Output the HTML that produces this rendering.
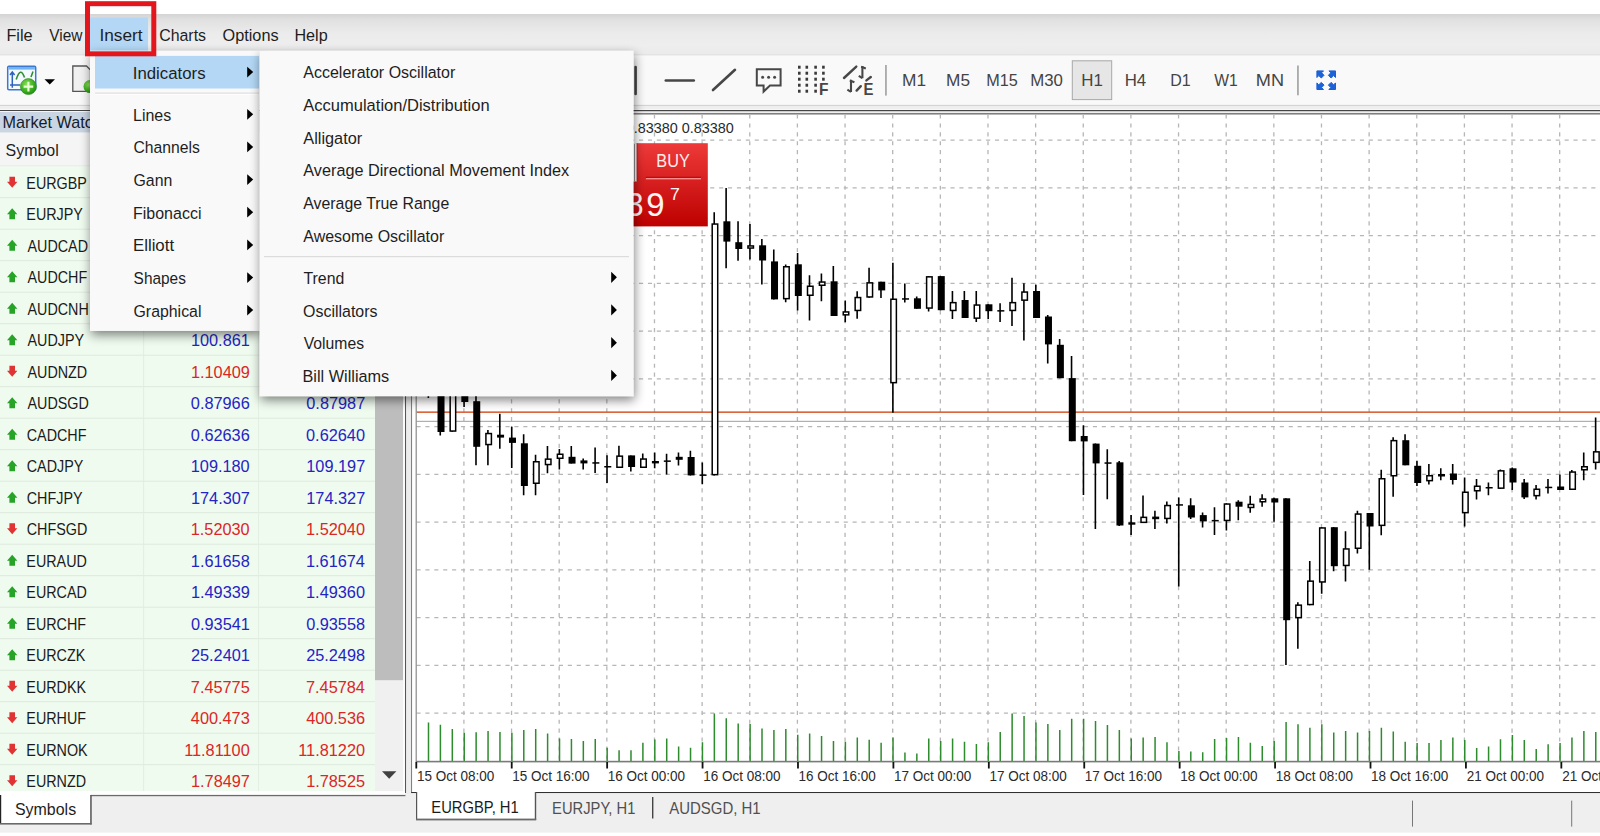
<!DOCTYPE html><html><head><meta charset="utf-8"><title>MetaTrader</title><style>
html,body{margin:0;padding:0;width:1600px;height:836px;overflow:hidden;background:#efefef}
svg{display:block} text{font-family:'Liberation Sans',sans-serif}
</style></head><body>
<svg width="1600" height="836" viewBox="0 0 1600 836">
<defs>
<linearGradient id="mbg" x1="0" y1="0" x2="0" y2="1"><stop offset="0" stop-color="#d4d4d4"/><stop offset="0.15" stop-color="#e1e1e1"/><stop offset="0.45" stop-color="#ebebeb"/><stop offset="0.75" stop-color="#eeeeee"/><stop offset="1" stop-color="#eaeaea"/></linearGradient>
<linearGradient id="buy" x1="0" y1="0" x2="0" y2="1"><stop offset="0" stop-color="#ee3a3a"/><stop offset="1" stop-color="#bd0000"/></linearGradient>
<radialGradient id="gplus" cx="0.4" cy="0.35" r="0.7"><stop offset="0" stop-color="#8be05a"/><stop offset="0.6" stop-color="#3fb022"/><stop offset="1" stop-color="#1d8a10"/></radialGradient>
<clipPath id="tbl"><rect x="0" y="166" width="375" height="625.1"/></clipPath>
<filter id="sh" x="-20%" y="-20%" width="140%" height="140%"><feGaussianBlur in="SourceAlpha" stdDeviation="5.5"/><feOffset dx="1" dy="3.5"/><feComponentTransfer><feFuncA type="linear" slope="0.5"/></feComponentTransfer><feMerge><feMergeNode/><feMergeNode in="SourceGraphic"/></feMerge></filter>
</defs>
<rect x="0" y="0" width="1600" height="14" fill="#ffffff"/>
<rect x="0" y="14" width="1600" height="41.5" fill="url(#mbg)"/>
<rect x="0" y="54.5" width="1600" height="1" fill="#dcdcdc"/>
<rect x="0" y="55.5" width="1600" height="49" fill="#f9f9f9"/>
<rect x="0" y="105" width="1600" height="1" fill="#d4d4d4"/>
<rect x="0" y="106" width="1600" height="3.5" fill="#efefef"/>
<rect x="0" y="109.5" width="1600" height="1" fill="#ffffff"/>
<rect x="0" y="110" width="1600" height="1.2" fill="#454545"/>
<rect x="90" y="17.5" width="58" height="33.2" fill="#b3d7f5"/>
<text x="6.45" y="40.60" font-size="17.2" fill="#1e1e1e" textLength="26.21" lengthAdjust="spacingAndGlyphs">File</text>
<text x="49.32" y="40.60" font-size="17.2" fill="#1e1e1e" textLength="33.17" lengthAdjust="spacingAndGlyphs">View</text>
<text x="99.45" y="40.60" font-size="17.2" fill="#1e1e1e" textLength="43.16" lengthAdjust="spacingAndGlyphs">Insert</text>
<text x="159.20" y="40.60" font-size="17.2" fill="#1e1e1e" textLength="46.86" lengthAdjust="spacingAndGlyphs">Charts</text>
<text x="222.52" y="40.60" font-size="17.2" fill="#1e1e1e" textLength="56.07" lengthAdjust="spacingAndGlyphs">Options</text>
<text x="294.46" y="40.60" font-size="17.2" fill="#1e1e1e" textLength="33.22" lengthAdjust="spacingAndGlyphs">Help</text>
<rect x="0" y="111.2" width="405" height="1" fill="#ffffff"/>
<rect x="0" y="112" width="405" height="20.6" fill="#c9d5e3"/>
<text x="2.50" y="127.90" font-size="17" fill="#141c2c" textLength="99.29" lengthAdjust="spacingAndGlyphs">Market Watch</text>
<rect x="0" y="132.6" width="375" height="33.6" fill="#f5f5f6"/>
<rect x="0" y="165.6" width="375" height="0.8" fill="#e2e2e2"/>
<text x="5.58" y="155.90" font-size="17" fill="#1e1e1e" textLength="53.13" lengthAdjust="spacingAndGlyphs">Symbol</text>
<rect x="0" y="166.2" width="375" height="624.9" fill="#effbef"/>
<g clip-path="url(#tbl)">
<rect x="0" y="197.25" width="375" height="0.9" fill="#dde8dd"/>
<path d="M9.4 176.70 L15 176.70 L15 181.70 L17.4 181.70 L12.2 187.70 L7 181.70 L9.4 181.70 Z" fill="#e03434"/>
<text x="26.35" y="188.90" font-size="16.5" fill="#1a1a1a" textLength="60.51" lengthAdjust="spacingAndGlyphs">EURGBP</text>
<rect x="0" y="228.75" width="375" height="0.9" fill="#dde8dd"/>
<path d="M7 214.20 L12.2 208.20 L17.4 214.20 L15 214.20 L15 219.20 L9.4 219.20 L9.4 214.20 Z" fill="#27a327"/>
<text x="26.35" y="220.40" font-size="16.5" fill="#1a1a1a" textLength="56.53" lengthAdjust="spacingAndGlyphs">EURJPY</text>
<rect x="0" y="260.25" width="375" height="0.9" fill="#dde8dd"/>
<path d="M7 245.70 L12.2 239.70 L17.4 245.70 L15 245.70 L15 250.70 L9.4 250.70 L9.4 245.70 Z" fill="#27a327"/>
<text x="27.50" y="251.90" font-size="16.5" fill="#1a1a1a" textLength="60.50" lengthAdjust="spacingAndGlyphs">AUDCAD</text>
<rect x="0" y="291.75" width="375" height="0.9" fill="#dde8dd"/>
<path d="M7 277.20 L12.2 271.20 L17.4 277.20 L15 277.20 L15 282.20 L9.4 282.20 L9.4 277.20 Z" fill="#27a327"/>
<text x="27.50" y="283.40" font-size="16.5" fill="#1a1a1a" textLength="59.70" lengthAdjust="spacingAndGlyphs">AUDCHF</text>
<rect x="0" y="323.25" width="375" height="0.9" fill="#dde8dd"/>
<path d="M7 308.70 L12.2 302.70 L17.4 308.70 L15 308.70 L15 313.70 L9.4 313.70 L9.4 308.70 Z" fill="#27a327"/>
<text x="27.50" y="314.90" font-size="16.5" fill="#1a1a1a" textLength="61.29" lengthAdjust="spacingAndGlyphs">AUDCNH</text>
<rect x="0" y="354.75" width="375" height="0.9" fill="#dde8dd"/>
<path d="M7 340.20 L12.2 334.20 L17.4 340.20 L15 340.20 L15 345.20 L9.4 345.20 L9.4 340.20 Z" fill="#27a327"/>
<text x="27.50" y="346.40" font-size="16.5" fill="#1a1a1a" textLength="56.53" lengthAdjust="spacingAndGlyphs">AUDJPY</text>
<text x="190.93" y="346.40" font-size="16" fill="#2424c4" textLength="58.90" lengthAdjust="spacingAndGlyphs">100.861</text>
<text x="306.07" y="346.40" font-size="16" fill="#2424c4" textLength="58.90" lengthAdjust="spacingAndGlyphs">100.880</text>
<rect x="0" y="386.25" width="375" height="0.9" fill="#dde8dd"/>
<path d="M9.4 365.70 L15 365.70 L15 370.70 L17.4 370.70 L12.2 376.70 L7 370.70 L9.4 370.70 Z" fill="#e03434"/>
<text x="27.50" y="377.90" font-size="16.5" fill="#1a1a1a" textLength="59.70" lengthAdjust="spacingAndGlyphs">AUDNZD</text>
<text x="190.93" y="377.90" font-size="16" fill="#dc2626" textLength="58.90" lengthAdjust="spacingAndGlyphs">1.10409</text>
<text x="306.23" y="377.90" font-size="16" fill="#dc2626" textLength="58.90" lengthAdjust="spacingAndGlyphs">1.10431</text>
<rect x="0" y="417.75" width="375" height="0.9" fill="#dde8dd"/>
<path d="M7 403.20 L12.2 397.20 L17.4 403.20 L15 403.20 L15 408.20 L9.4 408.20 L9.4 403.20 Z" fill="#27a327"/>
<text x="27.50" y="409.40" font-size="16.5" fill="#1a1a1a" textLength="61.30" lengthAdjust="spacingAndGlyphs">AUDSGD</text>
<text x="190.85" y="409.40" font-size="16" fill="#2424c4" textLength="58.90" lengthAdjust="spacingAndGlyphs">0.87966</text>
<text x="306.31" y="409.40" font-size="16" fill="#2424c4" textLength="58.90" lengthAdjust="spacingAndGlyphs">0.87987</text>
<rect x="0" y="449.25" width="375" height="0.9" fill="#dde8dd"/>
<path d="M7 434.70 L12.2 428.70 L17.4 434.70 L15 434.70 L15 439.70 L9.4 439.70 L9.4 434.70 Z" fill="#27a327"/>
<text x="26.78" y="440.90" font-size="16.5" fill="#1a1a1a" textLength="59.70" lengthAdjust="spacingAndGlyphs">CADCHF</text>
<text x="190.85" y="440.90" font-size="16" fill="#2424c4" textLength="58.90" lengthAdjust="spacingAndGlyphs">0.62636</text>
<text x="306.07" y="440.90" font-size="16" fill="#2424c4" textLength="58.90" lengthAdjust="spacingAndGlyphs">0.62640</text>
<rect x="0" y="480.75" width="375" height="0.9" fill="#dde8dd"/>
<path d="M7 466.20 L12.2 460.20 L17.4 466.20 L15 466.20 L15 471.20 L9.4 471.20 L9.4 466.20 Z" fill="#27a327"/>
<text x="26.78" y="472.40" font-size="16.5" fill="#1a1a1a" textLength="56.53" lengthAdjust="spacingAndGlyphs">CADJPY</text>
<text x="190.77" y="472.40" font-size="16" fill="#2424c4" textLength="58.90" lengthAdjust="spacingAndGlyphs">109.180</text>
<text x="306.31" y="472.40" font-size="16" fill="#2424c4" textLength="58.90" lengthAdjust="spacingAndGlyphs">109.197</text>
<rect x="0" y="512.25" width="375" height="0.9" fill="#dde8dd"/>
<path d="M7 497.70 L12.2 491.70 L17.4 497.70 L15 497.70 L15 502.70 L9.4 502.70 L9.4 497.70 Z" fill="#27a327"/>
<text x="26.78" y="503.90" font-size="16.5" fill="#1a1a1a" textLength="55.72" lengthAdjust="spacingAndGlyphs">CHFJPY</text>
<text x="191.01" y="503.90" font-size="16" fill="#2424c4" textLength="58.90" lengthAdjust="spacingAndGlyphs">174.307</text>
<text x="306.31" y="503.90" font-size="16" fill="#2424c4" textLength="58.90" lengthAdjust="spacingAndGlyphs">174.327</text>
<rect x="0" y="543.75" width="375" height="0.9" fill="#dde8dd"/>
<path d="M9.4 523.20 L15 523.20 L15 528.20 L17.4 528.20 L12.2 534.20 L7 528.20 L9.4 528.20 Z" fill="#e03434"/>
<text x="26.78" y="535.40" font-size="16.5" fill="#1a1a1a" textLength="60.50" lengthAdjust="spacingAndGlyphs">CHFSGD</text>
<text x="190.77" y="535.40" font-size="16" fill="#dc2626" textLength="58.90" lengthAdjust="spacingAndGlyphs">1.52030</text>
<text x="306.07" y="535.40" font-size="16" fill="#dc2626" textLength="58.90" lengthAdjust="spacingAndGlyphs">1.52040</text>
<rect x="0" y="575.25" width="375" height="0.9" fill="#dde8dd"/>
<path d="M7 560.70 L12.2 554.70 L17.4 560.70 L15 560.70 L15 565.70 L9.4 565.70 L9.4 560.70 Z" fill="#27a327"/>
<text x="26.35" y="566.90" font-size="16.5" fill="#1a1a1a" textLength="60.50" lengthAdjust="spacingAndGlyphs">EURAUD</text>
<text x="190.85" y="566.90" font-size="16" fill="#2424c4" textLength="58.90" lengthAdjust="spacingAndGlyphs">1.61658</text>
<text x="305.99" y="566.90" font-size="16" fill="#2424c4" textLength="58.90" lengthAdjust="spacingAndGlyphs">1.61674</text>
<rect x="0" y="606.75" width="375" height="0.9" fill="#dde8dd"/>
<path d="M7 592.20 L12.2 586.20 L17.4 592.20 L15 592.20 L15 597.20 L9.4 597.20 L9.4 592.20 Z" fill="#27a327"/>
<text x="26.35" y="598.40" font-size="16.5" fill="#1a1a1a" textLength="60.50" lengthAdjust="spacingAndGlyphs">EURCAD</text>
<text x="190.93" y="598.40" font-size="16" fill="#2424c4" textLength="58.90" lengthAdjust="spacingAndGlyphs">1.49339</text>
<text x="306.07" y="598.40" font-size="16" fill="#2424c4" textLength="58.90" lengthAdjust="spacingAndGlyphs">1.49360</text>
<rect x="0" y="638.25" width="375" height="0.9" fill="#dde8dd"/>
<path d="M7 623.70 L12.2 617.70 L17.4 623.70 L15 623.70 L15 628.70 L9.4 628.70 L9.4 623.70 Z" fill="#27a327"/>
<text x="26.35" y="629.90" font-size="16.5" fill="#1a1a1a" textLength="59.70" lengthAdjust="spacingAndGlyphs">EURCHF</text>
<text x="190.93" y="629.90" font-size="16" fill="#2424c4" textLength="58.90" lengthAdjust="spacingAndGlyphs">0.93541</text>
<text x="306.15" y="629.90" font-size="16" fill="#2424c4" textLength="58.90" lengthAdjust="spacingAndGlyphs">0.93558</text>
<rect x="0" y="669.75" width="375" height="0.9" fill="#dde8dd"/>
<path d="M7 655.20 L12.2 649.20 L17.4 655.20 L15 655.20 L15 660.20 L9.4 660.20 L9.4 655.20 Z" fill="#27a327"/>
<text x="26.35" y="661.40" font-size="16.5" fill="#1a1a1a" textLength="58.91" lengthAdjust="spacingAndGlyphs">EURCZK</text>
<text x="190.93" y="661.40" font-size="16" fill="#2424c4" textLength="58.90" lengthAdjust="spacingAndGlyphs">25.2401</text>
<text x="306.15" y="661.40" font-size="16" fill="#2424c4" textLength="58.90" lengthAdjust="spacingAndGlyphs">25.2498</text>
<rect x="0" y="701.25" width="375" height="0.9" fill="#dde8dd"/>
<path d="M9.4 680.70 L15 680.70 L15 685.70 L17.4 685.70 L12.2 691.70 L7 685.70 L9.4 685.70 Z" fill="#e03434"/>
<text x="26.35" y="692.90" font-size="16.5" fill="#1a1a1a" textLength="59.71" lengthAdjust="spacingAndGlyphs">EURDKK</text>
<text x="190.85" y="692.90" font-size="16" fill="#dc2626" textLength="58.90" lengthAdjust="spacingAndGlyphs">7.45775</text>
<text x="305.99" y="692.90" font-size="16" fill="#dc2626" textLength="58.90" lengthAdjust="spacingAndGlyphs">7.45784</text>
<rect x="0" y="732.75" width="375" height="0.9" fill="#dde8dd"/>
<path d="M9.4 712.20 L15 712.20 L15 717.20 L17.4 717.20 L12.2 723.20 L7 717.20 L9.4 717.20 Z" fill="#e03434"/>
<text x="26.35" y="724.40" font-size="16.5" fill="#1a1a1a" textLength="59.70" lengthAdjust="spacingAndGlyphs">EURHUF</text>
<text x="190.85" y="724.40" font-size="16" fill="#dc2626" textLength="58.90" lengthAdjust="spacingAndGlyphs">400.473</text>
<text x="306.15" y="724.40" font-size="16" fill="#dc2626" textLength="58.90" lengthAdjust="spacingAndGlyphs">400.536</text>
<rect x="0" y="764.25" width="375" height="0.9" fill="#dde8dd"/>
<path d="M9.4 743.70 L15 743.70 L15 748.70 L17.4 748.70 L12.2 754.70 L7 748.70 L9.4 748.70 Z" fill="#e03434"/>
<text x="26.35" y="755.90" font-size="16.5" fill="#1a1a1a" textLength="61.30" lengthAdjust="spacingAndGlyphs">EURNOK</text>
<text x="184.17" y="755.90" font-size="16" fill="#dc2626" textLength="65.54" lengthAdjust="spacingAndGlyphs">11.81100</text>
<text x="298.25" y="755.90" font-size="16" fill="#dc2626" textLength="66.75" lengthAdjust="spacingAndGlyphs">11.81220</text>
<rect x="0" y="795.75" width="375" height="0.9" fill="#dde8dd"/>
<path d="M9.4 775.20 L15 775.20 L15 780.20 L17.4 780.20 L12.2 786.20 L7 780.20 L9.4 780.20 Z" fill="#e03434"/>
<text x="26.35" y="787.40" font-size="16.5" fill="#1a1a1a" textLength="59.70" lengthAdjust="spacingAndGlyphs">EURNZD</text>
<text x="191.01" y="787.40" font-size="16" fill="#dc2626" textLength="58.90" lengthAdjust="spacingAndGlyphs">1.78497</text>
<text x="306.15" y="787.40" font-size="16" fill="#dc2626" textLength="58.90" lengthAdjust="spacingAndGlyphs">1.78525</text>
</g>
<rect x="143.2" y="166.2" width="0.9" height="624.9" fill="#e2ece2"/>
<rect x="258.1" y="166.2" width="0.9" height="624.9" fill="#e2ece2"/>
<rect x="375" y="112" width="28" height="680" fill="#f0f0f0"/>
<rect x="375" y="140" width="28" height="540.2" fill="#bdbdbd"/>
<path d="M382 771.3 L396.4 771.3 L389.2 778.8 Z" fill="#404040"/>
<rect x="403" y="111" width="2.5" height="682" fill="#fbfbfb"/>
<rect x="405" y="111" width="1.2" height="682" fill="#555555"/>
<rect x="0" y="791.1" width="405" height="4.4" fill="#ffffff"/>
<rect x="90.4" y="794.9" width="315" height="1.3" fill="#6a6a6a"/>
<rect x="0" y="791" width="90.6" height="33" fill="#ffffff"/>
<rect x="0" y="795" width="1.2" height="29" fill="#222"/>
<rect x="90.2" y="795" width="1.5" height="29.5" fill="#555"/>
<rect x="0" y="823" width="91.6" height="1.6" fill="#6a6a6a"/>
<text x="14.98" y="815.30" font-size="17" fill="#1e1e1e" textLength="61.17" lengthAdjust="spacingAndGlyphs">Symbols</text>
<rect x="406.2" y="111.2" width="5.3" height="682" fill="#ececec"/>
<rect x="411.2" y="111.2" width="1" height="682" fill="#666666"/>
<rect x="412.2" y="113.2" width="1187.8" height="679" fill="#ffffff"/>
<rect x="411.2" y="113.3" width="1188.8" height="1.1" fill="#4a4a4a"/>
<rect x="411.2" y="792" width="1188.8" height="1.2" fill="#303030"/>
<path d="M463.90 114.5 V761.5 M511.55 114.5 V761.5 M559.19 114.5 V761.5 M606.83 114.5 V761.5 M654.48 114.5 V761.5 M702.12 114.5 V761.5 M749.76 114.5 V761.5 M797.40 114.5 V761.5 M845.05 114.5 V761.5 M892.69 114.5 V761.5 M940.33 114.5 V761.5 M987.98 114.5 V761.5 M1035.62 114.5 V761.5 M1083.26 114.5 V761.5 M1130.90 114.5 V761.5 M1178.55 114.5 V761.5 M1226.19 114.5 V761.5 M1273.83 114.5 V761.5 M1321.48 114.5 V761.5 M1369.12 114.5 V761.5 M1416.76 114.5 V761.5 M1464.41 114.5 V761.5 M1512.05 114.5 V761.5 M1559.69 114.5 V761.5 M416.5 140.20 H1600 M416.5 187.95 H1600 M416.5 235.70 H1600 M416.5 283.45 H1600 M416.5 331.20 H1600 M416.5 378.95 H1600 M416.5 426.70 H1600 M416.5 474.45 H1600 M416.5 522.20 H1600 M416.5 569.95 H1600 M416.5 617.70 H1600 M416.5 665.45 H1600 M416.5 713.20 H1600" stroke="#b6b6b6" stroke-width="1.3" stroke-dasharray="4.1 4.8" fill="none"/>
<rect x="416.5" y="411.4" width="1183.5" height="1.5" fill="#d9572a"/>
<rect x="416.5" y="420.8" width="1183.5" height="1.1" fill="#a8a8a8"/>
<path d="M428.50 722.5 V761.5 M440.41 724.8 V761.5 M452.32 729.1 V761.5 M464.23 732.8 V761.5 M476.14 732.3 V761.5 M488.06 731 V761.5 M499.97 731.9 V761.5 M511.88 732.8 V761.5 M523.79 730 V761.5 M535.70 729.1 V761.5 M547.61 733.4 V761.5 M559.52 738.5 V761.5 M571.43 739 V761.5 M583.34 740.9 V761.5 M595.25 739 V761.5 M607.16 747.8 V761.5 M619.08 750.3 V761.5 M630.99 750.3 V761.5 M642.90 742.8 V761.5 M654.81 739.4 V761.5 M666.72 738.5 V761.5 M678.63 746.5 V761.5 M690.54 747.8 V761.5 M702.45 742.2 V761.5 M714.36 713.5 V761.5 M726.27 718.2 V761.5 M738.19 723.5 V761.5 M750.10 724 V761.5 M762.01 728.5 V761.5 M773.92 730 V761.5 M785.83 729.1 V761.5 M797.74 734.7 V761.5 M809.65 733.4 V761.5 M821.56 736 V761.5 M833.47 740.9 V761.5 M845.38 741.7 V761.5 M857.30 737.5 V761.5 M869.21 739.8 V761.5 M881.12 742.8 V761.5 M893.03 737.5 V761.5 M904.94 752.5 V761.5 M916.85 753.5 V761.5 M928.76 738.5 V761.5 M940.67 740.9 V761.5 M952.58 738.5 V761.5 M964.50 741.7 V761.5 M976.41 744.1 V761.5 M988.32 742.2 V761.5 M1000.23 731.9 V761.5 M1012.14 713.5 V761.5 M1024.05 716 V761.5 M1035.96 722.5 V761.5 M1047.87 724 V761.5 M1059.78 730 V761.5 M1071.69 718.8 V761.5 M1083.61 718.8 V761.5 M1095.52 721 V761.5 M1107.43 725 V761.5 M1119.34 730 V761.5 M1131.25 738.5 V761.5 M1143.16 737.5 V761.5 M1155.07 737 V761.5 M1166.98 742.2 V761.5 M1178.89 751 V761.5 M1190.80 751.6 V761.5 M1202.71 752.2 V761.5 M1214.63 739 V761.5 M1226.54 737.9 V761.5 M1238.45 737 V761.5 M1250.36 742.8 V761.5 M1262.27 746 V761.5 M1274.18 740.9 V761.5 M1286.09 722.1 V761.5 M1298.00 724.2 V761.5 M1309.91 727.7 V761.5 M1321.82 724.2 V761.5 M1333.74 732.6 V761.5 M1345.65 731 V761.5 M1357.56 732.6 V761.5 M1369.47 731 V761.5 M1381.38 727.7 V761.5 M1393.29 731.6 V761.5 M1405.20 741.7 V761.5 M1417.11 743 V761.5 M1429.02 743 V761.5 M1440.93 740.1 V761.5 M1452.85 737.4 V761.5 M1464.76 740.1 V761.5 M1476.67 748.1 V761.5 M1488.58 746.5 V761.5 M1500.49 739.3 V761.5 M1512.40 734.9 V761.5 M1524.31 740.1 V761.5 M1536.22 749 V761.5 M1548.13 744.2 V761.5 M1560.05 743 V761.5 M1571.96 737.4 V761.5 M1583.87 731 V761.5 M1595.78 732 V761.5" stroke="#2e8b2e" stroke-width="1.5" fill="none"/>
<path d="M428.35 360 V398 M440.26 370 V435.4 M452.17 385 V431.8 M464.08 385 V407 M475.99 392 V465.3 M487.91 430 V465.3 M499.82 413.7 V448.8 M511.73 426.8 V467.9 M523.64 434.3 V495.3 M535.55 454.7 V495.3 M547.46 446 V473.2 M559.37 449 V469.6 M571.28 446 V463.6 M583.19 458.6 V469.4 M595.10 447.6 V473 M607.01 455.3 V483.1 M618.93 445.8 V468 M630.84 455.4 V471.4 M642.75 453.5 V468 M654.66 452.6 V468.2 M666.57 453.8 V474.4 M678.48 452.6 V465.5 M690.39 450.8 V475.4 M702.30 462.4 V484.3 M714.21 212.3 V475.4 M726.12 188.1 V268.3 M738.04 221.3 V260.7 M749.95 223.9 V259.5 M761.86 238.9 V284.5 M773.77 249.6 V299.4 M785.68 264.5 V302.2 M797.59 252.9 V310.6 M809.50 275.3 V320.4 M821.41 273.5 V301.2 M833.32 266.1 V316 M845.24 300.4 V322.3 M857.15 291.2 V318.7 M869.06 267.8 V297.7 M880.97 281.7 V298 M892.88 262.8 V412.8 M904.79 283.5 V302.6 M916.70 296.5 V308.8 M928.61 276.1 V311.4 M940.52 276.1 V310.2 M952.43 290.9 V318.9 M964.35 290.9 V318 M976.26 290.9 V322 M988.17 304.3 V318.9 M1000.08 303.3 V322 M1011.99 277.7 V326 M1023.90 283.3 V340.4 M1035.81 284.8 V318 M1047.72 315 V363.5 M1059.63 338.9 V378.2 M1071.54 356 V441.2 M1083.45 425.3 V495 M1095.37 443.6 V529.1 M1107.28 449.2 V499.2 M1119.19 461 V526 M1131.10 515.1 V535.1 M1143.01 495.6 V523.1 M1154.92 510.8 V529.1 M1166.83 501.6 V523.5 M1178.74 497.5 V586.5 M1190.65 498.2 V519.1 M1202.57 512.4 V527.6 M1214.48 507.2 V535.1 M1226.39 503.3 V530.6 M1238.30 500.2 V520.2 M1250.21 495.7 V512.7 M1262.12 494.2 V506.7 M1274.03 497.7 V521.7 M1285.94 498.3 V665.1 M1297.85 602.3 V648.7 M1309.76 561 V605.3 M1321.67 527.2 V593.7 M1333.59 527.1 V571.2 M1345.50 531.3 V581.6 M1357.41 510.7 V553.5 M1369.32 513 V569.7 M1381.23 469.8 V535.2 M1393.14 437.2 V496.7 M1405.05 434.2 V465.3 M1416.96 460.8 V485.9 M1428.87 464.1 V484.4 M1440.78 468.3 V480.3 M1452.70 464.1 V484.4 M1464.61 477.6 V526.6 M1476.52 479 V499.4 M1488.43 482.5 V495.2 M1500.34 469.5 V488.9 M1512.25 467.5 V490 M1524.16 479 V498.9 M1536.07 485 V499.4 M1547.98 479 V493.4 M1559.89 474.6 V490 M1571.81 470.1 V490 M1583.72 452.6 V480.3 M1595.63 417.5 V469.5" stroke="#000" stroke-width="1.6" fill="none"/>
<g fill="#000"><rect x="425.60" y="365" width="7.0" height="20.00"/><rect x="437.51" y="378" width="7.0" height="54.00"/><rect x="461.33" y="390" width="7.0" height="12.00"/><rect x="473.24" y="401.2" width="7.0" height="45.60"/><rect x="497.07" y="434.7" width="7.0" height="2.90"/><rect x="508.98" y="437.6" width="7.0" height="5.30"/><rect x="520.89" y="443.3" width="7.0" height="42.70"/><rect x="568.53" y="456.8" width="7.0" height="6.80"/><rect x="580.44" y="460.4" width="7.0" height="3.00"/><rect x="592.35" y="462.2" width="7.0" height="1.50"/><rect x="604.26" y="466" width="7.0" height="1.50"/><rect x="628.09" y="455.4" width="7.0" height="11.60"/><rect x="651.91" y="461" width="7.0" height="2.40"/><rect x="663.82" y="460.4" width="7.0" height="1.50"/><rect x="675.73" y="456.8" width="7.0" height="3.00"/><rect x="687.64" y="457" width="7.0" height="18.40"/><rect x="699.55" y="474.4" width="7.0" height="1.50"/><rect x="723.38" y="221.3" width="7.0" height="20.30"/><rect x="735.29" y="242.2" width="7.0" height="6.80"/><rect x="759.11" y="245.3" width="7.0" height="15.20"/><rect x="771.02" y="261.4" width="7.0" height="38.00"/><rect x="794.84" y="264.3" width="7.0" height="31.70"/><rect x="830.57" y="281.3" width="7.0" height="34.70"/><rect x="878.22" y="281.7" width="7.0" height="8.70"/><rect x="902.04" y="298.2" width="7.0" height="1.50"/><rect x="913.95" y="298.3" width="7.0" height="10.50"/><rect x="937.77" y="276.1" width="7.0" height="34.10"/><rect x="961.60" y="300" width="7.0" height="18.00"/><rect x="985.42" y="304.3" width="7.0" height="6.90"/><rect x="997.33" y="310.1" width="7.0" height="1.50"/><rect x="1033.06" y="291" width="7.0" height="27.00"/><rect x="1044.97" y="316.5" width="7.0" height="27.90"/><rect x="1056.88" y="344.8" width="7.0" height="33.40"/><rect x="1068.79" y="378.1" width="7.0" height="63.10"/><rect x="1080.70" y="436" width="7.0" height="5.40"/><rect x="1092.62" y="443.6" width="7.0" height="19.80"/><rect x="1104.53" y="462.3" width="7.0" height="1.50"/><rect x="1116.44" y="462.3" width="7.0" height="63.20"/><rect x="1128.35" y="522.3" width="7.0" height="2.40"/><rect x="1152.17" y="516.6" width="7.0" height="2.60"/><rect x="1175.99" y="504.2" width="7.0" height="1.50"/><rect x="1187.90" y="505.3" width="7.0" height="12.20"/><rect x="1199.82" y="515.1" width="7.0" height="6.30"/><rect x="1211.73" y="519.9" width="7.0" height="1.50"/><rect x="1235.55" y="501.7" width="7.0" height="5.00"/><rect x="1271.28" y="498.3" width="7.0" height="4.20"/><rect x="1283.19" y="498.3" width="7.0" height="121.90"/><rect x="1330.84" y="527.2" width="7.0" height="39.00"/><rect x="1366.57" y="513" width="7.0" height="13.50"/><rect x="1402.30" y="440.2" width="7.0" height="25.10"/><rect x="1414.21" y="465.8" width="7.0" height="17.20"/><rect x="1449.95" y="473.5" width="7.0" height="6.50"/><rect x="1485.68" y="487" width="7.0" height="1.50"/><rect x="1509.50" y="468.3" width="7.0" height="14.20"/><rect x="1521.41" y="482.5" width="7.0" height="14.90"/><rect x="1545.23" y="486.7" width="7.0" height="1.50"/><rect x="1557.14" y="486.5" width="7.0" height="3.50"/></g>
<g fill="#fff" stroke="#000" stroke-width="1.5"><rect x="450.17" y="392.75" width="5.50" height="38.30"/><rect x="485.91" y="433.55" width="5.50" height="11.00"/><rect x="533.55" y="461.75" width="5.50" height="21.50"/><rect x="545.46" y="459.15" width="5.50" height="5.40"/><rect x="557.37" y="454.25" width="5.50" height="4.00"/><rect x="616.93" y="456.15" width="5.50" height="11.10"/><rect x="640.75" y="459.05" width="5.50" height="8.20"/><rect x="712.21" y="224.05" width="5.50" height="250.60"/><rect x="747.95" y="245.95" width="5.50" height="2.10"/><rect x="783.68" y="266.75" width="5.50" height="31.90"/><rect x="807.50" y="286.25" width="5.50" height="9.00"/><rect x="819.41" y="282.05" width="5.50" height="3.20"/><rect x="843.24" y="311.95" width="5.50" height="2.90"/><rect x="855.15" y="297.55" width="5.50" height="12.90"/><rect x="867.06" y="282.85" width="5.50" height="14.10"/><rect x="890.88" y="299.25" width="5.50" height="83.40"/><rect x="926.61" y="276.85" width="5.50" height="31.20"/><rect x="950.43" y="302.65" width="5.50" height="7.80"/><rect x="974.26" y="305.05" width="5.50" height="13.10"/><rect x="1009.99" y="302.65" width="5.50" height="7.80"/><rect x="1021.90" y="292.05" width="5.50" height="8.10"/><rect x="1141.01" y="517.35" width="5.50" height="5.00"/><rect x="1164.83" y="505.55" width="5.50" height="12.90"/><rect x="1224.39" y="504.05" width="5.50" height="16.40"/><rect x="1248.21" y="504.45" width="5.50" height="3.00"/><rect x="1260.12" y="499.05" width="5.50" height="2.70"/><rect x="1295.85" y="605.15" width="5.50" height="12.50"/><rect x="1307.76" y="581.15" width="5.50" height="23.40"/><rect x="1319.67" y="527.95" width="5.50" height="54.00"/><rect x="1343.50" y="548.95" width="5.50" height="16.50"/><rect x="1355.41" y="514.05" width="5.50" height="34.20"/><rect x="1379.23" y="478.75" width="5.50" height="46.60"/><rect x="1391.14" y="440.65" width="5.50" height="35.10"/><rect x="1426.87" y="475.75" width="5.50" height="4.90"/><rect x="1438.78" y="474.75" width="5.50" height="1.00"/><rect x="1462.61" y="492.25" width="5.50" height="20.40"/><rect x="1474.52" y="486.25" width="5.50" height="4.50"/><rect x="1498.34" y="470.85" width="5.50" height="17.30"/><rect x="1534.07" y="489.25" width="5.50" height="6.40"/><rect x="1569.81" y="472.05" width="5.50" height="17.20"/><rect x="1581.72" y="466.75" width="5.50" height="3.00"/><rect x="1593.63" y="451.85" width="5.50" height="10.50"/></g>
<rect x="415.6" y="114.4" width="1.2" height="648" fill="#8a8a8a"/>
<rect x="416" y="760.8" width="1184" height="1.6" fill="#7a7a7a"/>
<text x="416.89" y="780.90" font-size="13.8" fill="#2a2a2a" textLength="77.30" lengthAdjust="spacingAndGlyphs">15 Oct 08:00</text>
<text x="512.31" y="780.90" font-size="13.8" fill="#2a2a2a" textLength="77.30" lengthAdjust="spacingAndGlyphs">15 Oct 16:00</text>
<text x="607.73" y="780.90" font-size="13.8" fill="#2a2a2a" textLength="77.30" lengthAdjust="spacingAndGlyphs">16 Oct 00:00</text>
<text x="703.15" y="780.90" font-size="13.8" fill="#2a2a2a" textLength="77.30" lengthAdjust="spacingAndGlyphs">16 Oct 08:00</text>
<text x="798.57" y="780.90" font-size="13.8" fill="#2a2a2a" textLength="77.30" lengthAdjust="spacingAndGlyphs">16 Oct 16:00</text>
<text x="893.99" y="780.90" font-size="13.8" fill="#2a2a2a" textLength="77.30" lengthAdjust="spacingAndGlyphs">17 Oct 00:00</text>
<text x="989.41" y="780.90" font-size="13.8" fill="#2a2a2a" textLength="77.30" lengthAdjust="spacingAndGlyphs">17 Oct 08:00</text>
<text x="1084.83" y="780.90" font-size="13.8" fill="#2a2a2a" textLength="77.30" lengthAdjust="spacingAndGlyphs">17 Oct 16:00</text>
<text x="1180.25" y="780.90" font-size="13.8" fill="#2a2a2a" textLength="77.30" lengthAdjust="spacingAndGlyphs">18 Oct 00:00</text>
<text x="1275.67" y="780.90" font-size="13.8" fill="#2a2a2a" textLength="77.30" lengthAdjust="spacingAndGlyphs">18 Oct 08:00</text>
<text x="1371.09" y="780.90" font-size="13.8" fill="#2a2a2a" textLength="77.30" lengthAdjust="spacingAndGlyphs">18 Oct 16:00</text>
<text x="1466.85" y="780.90" font-size="13.8" fill="#2a2a2a" textLength="77.30" lengthAdjust="spacingAndGlyphs">21 Oct 00:00</text>
<text x="1562.27" y="780.90" font-size="13.8" fill="#2a2a2a" textLength="77.30" lengthAdjust="spacingAndGlyphs">21 Oct 08:00</text>
<path d="M416.30 762 V768.5 M511.72 762 V768.5 M607.14 762 V768.5 M702.56 762 V768.5 M797.98 762 V768.5 M893.40 762 V768.5 M988.82 762 V768.5 M1084.24 762 V768.5 M1179.66 762 V768.5 M1275.08 762 V768.5 M1370.50 762 V768.5 M1465.92 762 V768.5 M1561.34 762 V768.5" stroke="#111" stroke-width="1.8" fill="none"/>
<text x="733.8" y="132.6" font-size="14.4" fill="#2a2a2a" text-anchor="end">EURGBP,H1  0.83380 0.83380 0.83380 0.83380</text>
<rect x="580" y="143.2" width="127.8" height="83.2" fill="url(#buy)"/>
<rect x="600" y="143.2" width="37" height="38.2" fill="#ffffff"/>
<rect x="633.8" y="144" width="1" height="37" fill="#7a7a7a"/>
<rect x="636.6" y="143.2" width="0.8" height="38.2" fill="#b01818"/>
<text x="656.30" y="167.00" font-size="17.5" fill="#ffecec" textLength="33.45" lengthAdjust="spacingAndGlyphs">BUY</text>
<rect x="645.9" y="176.8" width="55.1" height="1.1" fill="#a00000"/>
<rect x="645.9" y="177.9" width="55.1" height="1.5" fill="#ff8c8c"/>
<text x="566.90" y="215.60" font-size="33" fill="#fff4f4" textLength="76.80" lengthAdjust="spacingAndGlyphs">0.833</text>
<text x="646.32" y="215.60" font-size="33" fill="#fff4f4" textLength="18.30" lengthAdjust="spacingAndGlyphs">9</text>
<text x="670.01" y="200.10" font-size="15.6" fill="#fff4f4" textLength="9.90" lengthAdjust="spacingAndGlyphs">7</text>
<rect x="411" y="793.2" width="1189" height="39.6" fill="#efefef"/>
<rect x="0" y="832.6" width="1600" height="3.4" fill="#ffffff"/>
<rect x="416" y="792" width="120" height="27.8" fill="#ffffff"/>
<rect x="416" y="792" width="1.2" height="28" fill="#555"/>
<rect x="534.8" y="792" width="1.4" height="28" fill="#555"/>
<rect x="416" y="818.6" width="120.2" height="1.8" fill="#6a6a6a"/>
<text x="431.32" y="812.80" font-size="17" fill="#1a1a1a" textLength="87.39" lengthAdjust="spacingAndGlyphs">EURGBP, H1</text>
<text x="552.12" y="813.60" font-size="17" fill="#505050" textLength="83.25" lengthAdjust="spacingAndGlyphs">EURJPY, H1</text>
<rect x="652" y="797" width="1.4" height="21.5" fill="#444"/>
<text x="669.20" y="813.60" font-size="17" fill="#505050" textLength="91.51" lengthAdjust="spacingAndGlyphs">AUDSGD, H1</text>
<rect x="1412" y="800.6" width="1" height="26" fill="#777"/>
<rect x="1571.2" y="800.6" width="1" height="26" fill="#777"/>
<g>
<rect x="7.7" y="66.2" width="28" height="23.6" rx="1.2" fill="#f4f9ff" stroke="#3b78d0" stroke-width="1.5"/>
<rect x="8.5" y="67" width="26.4" height="2.6" fill="#6fb4f5"/>
<path d="M12.3 87.8 V72.5 M10 75 L12.3 72 L14.6 75 M10 85 H20" stroke="#2d62b8" stroke-width="1.5" fill="none"/>
<path d="M16.2 79.6 Q20.5 66 24.5 77.5 M31 77 L33 71.5" stroke="#2f8f2f" stroke-width="1.6" fill="none"/>
<circle cx="28.4" cy="86.6" r="8" fill="url(#gplus)" stroke="#2a8a18" stroke-width="0.6"/>
<path d="M28.4 81.8 V91.4 M23.6 86.6 H33.2" stroke="#eaffd8" stroke-width="2.1"/>
</g>
<path d="M44.5 79.2 L55 79.2 L49.75 84.4 Z" fill="#000"/>
<path d="M72.8 66 H86.5 L90.5 70 V91.4 H72.8 Z" fill="#f0f0f0" stroke="#555" stroke-width="1.3"/>
<circle cx="90" cy="86.6" r="6.5" fill="url(#gplus)"/>
<g stroke="#474747" stroke-width="2.6" stroke-linecap="round" fill="none">
<path d="M635.6 67 V94"/>
<path d="M665.8 80.5 H693.8"/>
<path d="M713 90 L735 69.8"/>
</g>
<path d="M756.8 69.2 H780.6 V85.6 H770 L763.6 91.6 V85.6 H756.8 Z" fill="none" stroke="#474747" stroke-width="2"/>
<g fill="#474747"><circle cx="762.6" cy="77.3" r="1.5"/><circle cx="768.6" cy="77.3" r="1.5"/><circle cx="774.6" cy="77.3" r="1.5"/></g>
<g fill="#3a3a3a"><rect x="798.0" y="65.7" width="2.6" height="3"/><rect x="798.0" y="71.7" width="2.6" height="3"/><rect x="798.0" y="77.7" width="2.6" height="3"/><rect x="798.0" y="83.7" width="2.6" height="3"/><rect x="798.0" y="89.7" width="2.6" height="3"/><rect x="805.5" y="65.7" width="2.6" height="3"/><rect x="805.5" y="71.7" width="2.6" height="3"/><rect x="805.5" y="77.7" width="2.6" height="3"/><rect x="805.5" y="83.7" width="2.6" height="3"/><rect x="805.5" y="89.7" width="2.6" height="3"/><rect x="814.3" y="65.7" width="2.6" height="3"/><rect x="814.3" y="71.7" width="2.6" height="3"/><rect x="814.3" y="77.7" width="2.6" height="3"/><rect x="814.3" y="83.7" width="2.6" height="3"/><rect x="814.3" y="89.7" width="2.6" height="3"/><rect x="822.1" y="65.7" width="2.6" height="3"/><rect x="822.1" y="71.7" width="2.6" height="3"/><rect x="822.1" y="77.7" width="2.6" height="3"/></g>
<text x="818.89" y="94.70" font-size="16.2" fill="#474747" textLength="9.46" lengthAdjust="spacingAndGlyphs" font-weight="bold">F</text>
<g stroke="#474747" stroke-width="2.4" stroke-linecap="round" fill="none"><path d="M844 78 L856.3 66.6"/><path d="M856.6 90.6 L860.8 86.2"/><path d="M866.4 80.4 L870.8 77"/></g>
<g stroke="#474747" stroke-width="2.1" fill="none"><path d="M861.2 66.8 L865.8 68.4"/><path d="M862.4 66 L862.4 78.2"/><path d="M858.8 75.8 L862.4 78.2"/>
<path d="M849.8 80.6 L854.4 82.2"/><path d="M851 79.8 L851 92"/><path d="M847.4 89.6 L851 92"/></g>
<text x="863.43" y="94.70" font-size="16.2" fill="#474747" textLength="9.92" lengthAdjust="spacingAndGlyphs" font-weight="bold">E</text>
<rect x="885.3" y="65" width="1.3" height="30.6" fill="#8a8a8a"/>
<rect x="1072.3" y="60.8" width="39.4" height="38.8" fill="#e6e6e6" stroke="#a8a8a8" stroke-width="1"/>
<text x="902.12" y="86.25" font-size="16.6" fill="#444" textLength="24.05" lengthAdjust="spacingAndGlyphs">M1</text>
<text x="946.12" y="86.25" font-size="16.6" fill="#444" textLength="23.96" lengthAdjust="spacingAndGlyphs">M5</text>
<text x="986.20" y="86.25" font-size="16.6" fill="#444" textLength="31.55" lengthAdjust="spacingAndGlyphs">M15</text>
<text x="1030.16" y="86.25" font-size="16.6" fill="#444" textLength="32.69" lengthAdjust="spacingAndGlyphs">M30</text>
<text x="1081.25" y="86.25" font-size="16.6" fill="#444" textLength="21.57" lengthAdjust="spacingAndGlyphs">H1</text>
<text x="1124.65" y="86.25" font-size="16.6" fill="#444" textLength="21.51" lengthAdjust="spacingAndGlyphs">H4</text>
<text x="1170.22" y="86.25" font-size="16.6" fill="#444" textLength="20.45" lengthAdjust="spacingAndGlyphs">D1</text>
<text x="1214.32" y="86.25" font-size="16.6" fill="#444" textLength="23.48" lengthAdjust="spacingAndGlyphs">W1</text>
<text x="1255.85" y="86.25" font-size="16.6" fill="#444" textLength="28.21" lengthAdjust="spacingAndGlyphs">MN</text>
<rect x="1297.3" y="65.5" width="1.3" height="29.8" fill="#8a8a8a"/>
<path d="M1316.90 70.90 L1323.50 70.90 L1321.60 72.80 L1324.00 75.30 L1321.30 78.00 L1318.80 75.60 L1316.90 77.50 Z M1335.50 70.90 L1328.90 70.90 L1330.80 72.80 L1328.40 75.30 L1331.10 78.00 L1333.60 75.60 L1335.50 77.50 Z M1316.90 89.50 L1323.50 89.50 L1321.60 87.60 L1324.00 85.10 L1321.30 82.40 L1318.80 84.80 L1316.90 82.90 Z M1335.50 89.50 L1328.90 89.50 L1330.80 87.60 L1328.40 85.10 L1331.10 82.40 L1333.60 84.80 L1335.50 82.90 Z" fill="#1c63d8" stroke="#1c5fd4" stroke-width="1" stroke-linejoin="round"/>
<g filter="url(#sh)">
<rect x="90" y="50.9" width="169.6" height="280" fill="#f9f9f9"/>
</g>
<rect x="95" y="55.9" width="164.3" height="32.6" fill="#b3d7f5"/>
<rect x="95" y="92.6" width="164" height="1.2" fill="#dcdcdc"/>
<rect x="95" y="93.8" width="164" height="1" fill="#ffffff"/>
<text x="132.79" y="78.50" font-size="17.4" fill="#1e1e1e" textLength="72.81" lengthAdjust="spacingAndGlyphs">Indicators</text>
<path d="M247.2 66.7 L253.2 72.1 L247.2 77.5 Z" fill="#000"/>
<text x="133.02" y="120.70" font-size="17.4" fill="#1e1e1e" textLength="38.25" lengthAdjust="spacingAndGlyphs">Lines</text>
<path d="M247.2 108.9 L253.2 114.3 L247.2 119.7 Z" fill="#000"/>
<text x="133.51" y="153.30" font-size="17.4" fill="#1e1e1e" textLength="66.34" lengthAdjust="spacingAndGlyphs">Channels</text>
<path d="M247.2 141.5 L253.2 146.9 L247.2 152.3 Z" fill="#000"/>
<text x="133.51" y="186.00" font-size="17.4" fill="#1e1e1e" textLength="38.85" lengthAdjust="spacingAndGlyphs">Gann</text>
<path d="M247.2 174.2 L253.2 179.6 L247.2 185.0 Z" fill="#000"/>
<text x="133.02" y="218.60" font-size="17.4" fill="#1e1e1e" textLength="68.42" lengthAdjust="spacingAndGlyphs">Fibonacci</text>
<path d="M247.2 206.8 L253.2 212.2 L247.2 217.6 Z" fill="#000"/>
<text x="132.95" y="251.30" font-size="17.4" fill="#1e1e1e" textLength="41.14" lengthAdjust="spacingAndGlyphs">Elliott</text>
<path d="M247.2 239.5 L253.2 244.9 L247.2 250.3 Z" fill="#000"/>
<text x="133.61" y="284.00" font-size="17.4" fill="#1e1e1e" textLength="52.26" lengthAdjust="spacingAndGlyphs">Shapes</text>
<path d="M247.2 272.2 L253.2 277.6 L247.2 283.0 Z" fill="#000"/>
<text x="133.51" y="316.50" font-size="17.4" fill="#1e1e1e" textLength="67.92" lengthAdjust="spacingAndGlyphs">Graphical</text>
<path d="M247.2 304.7 L253.2 310.1 L247.2 315.5 Z" fill="#000"/>
<g filter="url(#sh)">
<rect x="259.7" y="50.9" width="373.8" height="345.2" fill="#f9f9f9"/>
</g>
<text x="303.30" y="77.90" font-size="17.4" fill="#1e1e1e" textLength="151.99" lengthAdjust="spacingAndGlyphs">Accelerator Oscillator</text>
<text x="303.30" y="110.90" font-size="17.4" fill="#1e1e1e" textLength="186.32" lengthAdjust="spacingAndGlyphs">Accumulation/Distribution</text>
<text x="303.30" y="143.60" font-size="17.4" fill="#1e1e1e" textLength="58.89" lengthAdjust="spacingAndGlyphs">Alligator</text>
<text x="303.30" y="176.30" font-size="17.4" fill="#1e1e1e" textLength="265.95" lengthAdjust="spacingAndGlyphs">Average Directional Movement Index</text>
<text x="303.30" y="209.30" font-size="17.4" fill="#1e1e1e" textLength="145.92" lengthAdjust="spacingAndGlyphs">Average True Range</text>
<text x="303.30" y="242.00" font-size="17.4" fill="#1e1e1e" textLength="140.99" lengthAdjust="spacingAndGlyphs">Awesome Oscillator</text>
<rect x="264" y="256" width="365" height="1.2" fill="#dcdcdc"/>
<text x="303.48" y="283.90" font-size="17.4" fill="#1e1e1e" textLength="40.85" lengthAdjust="spacingAndGlyphs">Trend</text>
<path d="M611.2 271.7 L616.9 277.3 L611.2 282.9 Z" fill="#000"/>
<text x="303.08" y="316.50" font-size="17.4" fill="#1e1e1e" textLength="74.44" lengthAdjust="spacingAndGlyphs">Oscillators</text>
<path d="M611.2 304.3 L616.9 309.9 L611.2 315.5 Z" fill="#000"/>
<text x="303.72" y="349.30" font-size="17.4" fill="#1e1e1e" textLength="60.34" lengthAdjust="spacingAndGlyphs">Volumes</text>
<path d="M611.2 337.1 L616.9 342.7 L611.2 348.3 Z" fill="#000"/>
<text x="302.50" y="382.00" font-size="17.4" fill="#1e1e1e" textLength="86.74" lengthAdjust="spacingAndGlyphs">Bill Williams</text>
<path d="M611.2 369.8 L616.9 375.4 L611.2 381.0 Z" fill="#000"/>
<rect x="87.5" y="3.7" width="66.3" height="50.1" fill="none" stroke="#e3161e" stroke-width="5"/>
</svg></body></html>
